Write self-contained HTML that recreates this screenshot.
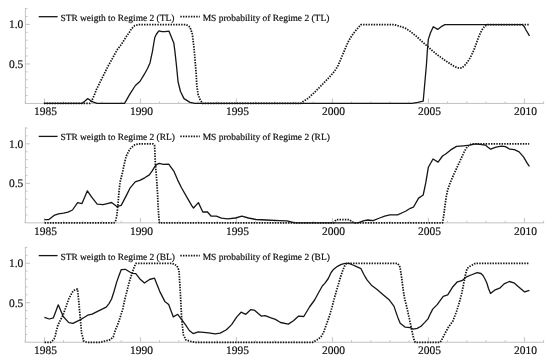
<!DOCTYPE html><html><head><meta charset="utf-8"><style>html,body{margin:0;padding:0;background:#fff;}svg{display:block;will-change:transform;filter:blur(0.25px);}text{font-family:"Liberation Serif",serif;stroke:#111;stroke-width:0.2px;text-rendering:geometricPrecision;}</style></head><body>
<svg width="550" height="361" viewBox="0 0 550 361">
<rect width="550" height="361" fill="#fff"/>
<path d="M25.4,8.00V103.45" stroke="#c2c2c2" stroke-width="1" fill="none"/>
<path d="M25.10,103.45H544.10" stroke="#c2c2c2" stroke-width="1" fill="none"/>
<path d="M25.4,95.56h2.0" stroke="#c2c2c2" stroke-width="1"/>
<path d="M25.4,87.65h2.0" stroke="#c2c2c2" stroke-width="1"/>
<path d="M25.4,79.75h2.0" stroke="#c2c2c2" stroke-width="1"/>
<path d="M25.4,71.84h2.0" stroke="#c2c2c2" stroke-width="1"/>
<path d="M25.4,63.94h4.5" stroke="#c2c2c2" stroke-width="1"/>
<path d="M25.4,56.04h2.0" stroke="#c2c2c2" stroke-width="1"/>
<path d="M25.4,48.13h2.0" stroke="#c2c2c2" stroke-width="1"/>
<path d="M25.4,40.23h2.0" stroke="#c2c2c2" stroke-width="1"/>
<path d="M25.4,32.32h2.0" stroke="#c2c2c2" stroke-width="1"/>
<path d="M25.4,24.42h4.5" stroke="#c2c2c2" stroke-width="1"/>
<path d="M25.4,16.52h2.0" stroke="#c2c2c2" stroke-width="1"/>
<path d="M25.4,8.61h2.0" stroke="#c2c2c2" stroke-width="1"/>
<path d="M25.20,103.45v-2" stroke="#c2c2c2" stroke-width="1"/>
<path d="M44.40,103.45v-5" stroke="#c2c2c2" stroke-width="1"/>
<path d="M63.60,103.45v-2" stroke="#c2c2c2" stroke-width="1"/>
<path d="M82.80,103.45v-2" stroke="#c2c2c2" stroke-width="1"/>
<path d="M102.00,103.45v-2" stroke="#c2c2c2" stroke-width="1"/>
<path d="M121.20,103.45v-2" stroke="#c2c2c2" stroke-width="1"/>
<path d="M140.40,103.45v-5" stroke="#c2c2c2" stroke-width="1"/>
<path d="M159.60,103.45v-2" stroke="#c2c2c2" stroke-width="1"/>
<path d="M178.80,103.45v-2" stroke="#c2c2c2" stroke-width="1"/>
<path d="M198.00,103.45v-2" stroke="#c2c2c2" stroke-width="1"/>
<path d="M217.20,103.45v-2" stroke="#c2c2c2" stroke-width="1"/>
<path d="M236.40,103.45v-5" stroke="#c2c2c2" stroke-width="1"/>
<path d="M255.60,103.45v-2" stroke="#c2c2c2" stroke-width="1"/>
<path d="M274.80,103.45v-2" stroke="#c2c2c2" stroke-width="1"/>
<path d="M294.00,103.45v-2" stroke="#c2c2c2" stroke-width="1"/>
<path d="M313.20,103.45v-2" stroke="#c2c2c2" stroke-width="1"/>
<path d="M332.40,103.45v-5" stroke="#c2c2c2" stroke-width="1"/>
<path d="M351.60,103.45v-2" stroke="#c2c2c2" stroke-width="1"/>
<path d="M370.80,103.45v-2" stroke="#c2c2c2" stroke-width="1"/>
<path d="M390.00,103.45v-2" stroke="#c2c2c2" stroke-width="1"/>
<path d="M409.20,103.45v-2" stroke="#c2c2c2" stroke-width="1"/>
<path d="M428.40,103.45v-5" stroke="#c2c2c2" stroke-width="1"/>
<path d="M447.60,103.45v-2" stroke="#c2c2c2" stroke-width="1"/>
<path d="M466.80,103.45v-2" stroke="#c2c2c2" stroke-width="1"/>
<path d="M486.00,103.45v-2" stroke="#c2c2c2" stroke-width="1"/>
<path d="M505.20,103.45v-2" stroke="#c2c2c2" stroke-width="1"/>
<path d="M524.40,103.45v-5" stroke="#c2c2c2" stroke-width="1"/>
<path d="M543.60,103.45v-2" stroke="#c2c2c2" stroke-width="1"/>
<text x="23.3" y="28.22" font-size="11.5" text-anchor="end" fill="#111">1.0</text>
<text x="23.3" y="67.74" font-size="11.5" text-anchor="end" fill="#111">0.5</text>
<text x="45.40" y="115.10" font-size="11.5" text-anchor="middle" fill="#111">1985</text>
<text x="141.40" y="115.10" font-size="11.5" text-anchor="middle" fill="#111">1990</text>
<text x="237.40" y="115.10" font-size="11.5" text-anchor="middle" fill="#111">1995</text>
<text x="333.40" y="115.10" font-size="11.5" text-anchor="middle" fill="#111">2000</text>
<text x="429.40" y="115.10" font-size="11.5" text-anchor="middle" fill="#111">2005</text>
<text x="525.40" y="115.10" font-size="11.5" text-anchor="middle" fill="#111">2010</text>
<path d="M38.7,16.70H57.6" stroke="#161616" stroke-width="1.3"/>
<text x="60.4" y="20.60" font-size="9.45" fill="#111">STR weigth to Regime 2 (TL)</text>
<path d="M180.3,16.70H199.8" stroke="#161616" stroke-width="1.75" stroke-dasharray="1.45 1.2"/>
<text x="202.7" y="20.60" font-size="9.45" fill="#111">MS probability of Regime 2 (TL)</text>
<polyline points="43.9,103.45 88.0,103.45 90.0,103.45 91.5,101.20 93.2,97.70 95.2,93.00 96.3,89.80 100.9,80.50 105.6,71.10 108.0,66.30 111.9,59.40 114.4,54.70 117.5,49.40 120.5,45.50 123.3,41.40 126.3,36.60 129.4,32.20 131.3,29.00 134.7,25.60 138.8,24.65 186.4,24.65 190.0,27.10 192.4,34.30 194.3,51.00 196.1,72.80 196.8,85.50 198.1,94.40 200.0,99.50 202.5,103.45 205.7,103.45 299.0,103.45 300.7,103.45 303.2,101.50 305.5,100.00 307.7,98.50 309.7,96.90 311.7,95.00 313.7,93.20 317.2,89.60 321.1,85.70 324.9,81.80 328.8,77.70 332.7,73.50 336.0,69.10 338.2,65.20 340.5,59.80 343.3,53.20 346.1,46.60 348.8,40.50 351.6,36.10 354.4,32.20 357.7,28.30 361.0,24.65 364.3,24.65 372.9,24.65 388.8,24.65 394.4,24.65 399.9,26.30 405.6,28.30 410.5,31.60 416.1,36.10 421.6,41.10 427.2,46.10 432.7,51.00 438.2,55.50 440.5,57.10 444.4,59.90 448.7,62.80 452.6,65.40 456.5,67.40 459.4,68.30 461.8,67.90 464.7,65.40 467.6,61.80 470.1,57.90 472.5,53.10 474.4,48.70 476.4,43.30 479.2,35.50 481.9,30.00 484.7,26.10 487.5,24.65 490.8,24.65 529.2,24.65" fill="none" stroke="#161616" stroke-width="1.75" stroke-dasharray="1.45 1.2" stroke-linejoin="round"/>
<polyline points="43.9,103.45 82.0,103.45 85.0,101.00 87.5,98.70 89.5,99.70 91.2,101.20 93.5,102.20 97.0,103.45 100.0,103.45 122.5,103.45 124.5,103.45 126.0,100.90 130.0,93.90 135.4,85.50 139.9,81.50 144.4,74.20 147.5,68.50 150.0,62.90 152.4,51.70 154.0,42.00 154.9,37.20 156.5,34.00 158.9,30.80 162.1,31.60 165.0,31.60 169.0,31.20 173.8,42.90 175.0,52.20 176.2,63.00 178.1,82.00 180.5,91.50 184.0,98.60 190.0,102.40 195.0,103.45 412.0,103.45 417.8,102.40 423.2,101.20 426.5,64.00 427.2,52.70 428.3,39.40 430.5,32.80 433.3,26.70 437.7,29.40 442.1,26.10 445.0,24.65 522.4,24.65 524.5,27.00 526.0,30.00 529.5,35.80" fill="none" stroke="#161616" stroke-width="1.3" stroke-linejoin="round"/>
<path d="M25.4,127.40V222.85" stroke="#c2c2c2" stroke-width="1" fill="none"/>
<path d="M25.10,222.85H544.10" stroke="#c2c2c2" stroke-width="1" fill="none"/>
<path d="M25.4,214.96h2.0" stroke="#c2c2c2" stroke-width="1"/>
<path d="M25.4,207.05h2.0" stroke="#c2c2c2" stroke-width="1"/>
<path d="M25.4,199.15h2.0" stroke="#c2c2c2" stroke-width="1"/>
<path d="M25.4,191.24h2.0" stroke="#c2c2c2" stroke-width="1"/>
<path d="M25.4,183.34h4.5" stroke="#c2c2c2" stroke-width="1"/>
<path d="M25.4,175.44h2.0" stroke="#c2c2c2" stroke-width="1"/>
<path d="M25.4,167.53h2.0" stroke="#c2c2c2" stroke-width="1"/>
<path d="M25.4,159.63h2.0" stroke="#c2c2c2" stroke-width="1"/>
<path d="M25.4,151.72h2.0" stroke="#c2c2c2" stroke-width="1"/>
<path d="M25.4,143.82h4.5" stroke="#c2c2c2" stroke-width="1"/>
<path d="M25.4,135.92h2.0" stroke="#c2c2c2" stroke-width="1"/>
<path d="M25.4,128.01h2.0" stroke="#c2c2c2" stroke-width="1"/>
<path d="M25.20,222.85v-2" stroke="#c2c2c2" stroke-width="1"/>
<path d="M44.40,222.85v-5" stroke="#c2c2c2" stroke-width="1"/>
<path d="M63.60,222.85v-2" stroke="#c2c2c2" stroke-width="1"/>
<path d="M82.80,222.85v-2" stroke="#c2c2c2" stroke-width="1"/>
<path d="M102.00,222.85v-2" stroke="#c2c2c2" stroke-width="1"/>
<path d="M121.20,222.85v-2" stroke="#c2c2c2" stroke-width="1"/>
<path d="M140.40,222.85v-5" stroke="#c2c2c2" stroke-width="1"/>
<path d="M159.60,222.85v-2" stroke="#c2c2c2" stroke-width="1"/>
<path d="M178.80,222.85v-2" stroke="#c2c2c2" stroke-width="1"/>
<path d="M198.00,222.85v-2" stroke="#c2c2c2" stroke-width="1"/>
<path d="M217.20,222.85v-2" stroke="#c2c2c2" stroke-width="1"/>
<path d="M236.40,222.85v-5" stroke="#c2c2c2" stroke-width="1"/>
<path d="M255.60,222.85v-2" stroke="#c2c2c2" stroke-width="1"/>
<path d="M274.80,222.85v-2" stroke="#c2c2c2" stroke-width="1"/>
<path d="M294.00,222.85v-2" stroke="#c2c2c2" stroke-width="1"/>
<path d="M313.20,222.85v-2" stroke="#c2c2c2" stroke-width="1"/>
<path d="M332.40,222.85v-5" stroke="#c2c2c2" stroke-width="1"/>
<path d="M351.60,222.85v-2" stroke="#c2c2c2" stroke-width="1"/>
<path d="M370.80,222.85v-2" stroke="#c2c2c2" stroke-width="1"/>
<path d="M390.00,222.85v-2" stroke="#c2c2c2" stroke-width="1"/>
<path d="M409.20,222.85v-2" stroke="#c2c2c2" stroke-width="1"/>
<path d="M428.40,222.85v-5" stroke="#c2c2c2" stroke-width="1"/>
<path d="M447.60,222.85v-2" stroke="#c2c2c2" stroke-width="1"/>
<path d="M466.80,222.85v-2" stroke="#c2c2c2" stroke-width="1"/>
<path d="M486.00,222.85v-2" stroke="#c2c2c2" stroke-width="1"/>
<path d="M505.20,222.85v-2" stroke="#c2c2c2" stroke-width="1"/>
<path d="M524.40,222.85v-5" stroke="#c2c2c2" stroke-width="1"/>
<path d="M543.60,222.85v-2" stroke="#c2c2c2" stroke-width="1"/>
<text x="23.3" y="147.62" font-size="11.5" text-anchor="end" fill="#111">1.0</text>
<text x="23.3" y="187.14" font-size="11.5" text-anchor="end" fill="#111">0.5</text>
<text x="45.40" y="234.50" font-size="11.5" text-anchor="middle" fill="#111">1985</text>
<text x="141.40" y="234.50" font-size="11.5" text-anchor="middle" fill="#111">1990</text>
<text x="237.40" y="234.50" font-size="11.5" text-anchor="middle" fill="#111">1995</text>
<text x="333.40" y="234.50" font-size="11.5" text-anchor="middle" fill="#111">2000</text>
<text x="429.40" y="234.50" font-size="11.5" text-anchor="middle" fill="#111">2005</text>
<text x="525.40" y="234.50" font-size="11.5" text-anchor="middle" fill="#111">2010</text>
<path d="M38.7,136.40H57.6" stroke="#161616" stroke-width="1.3"/>
<text x="60.4" y="140.30" font-size="9.45" fill="#111">STR weigth to Regime 2 (RL)</text>
<path d="M180.3,136.40H199.8" stroke="#161616" stroke-width="1.75" stroke-dasharray="1.45 1.2"/>
<text x="202.7" y="140.30" font-size="9.45" fill="#111">MS probability of Regime 2 (RL)</text>
<polyline points="44.6,222.85 112.4,222.85 114.0,222.85 115.6,220.80 116.8,215.70 117.5,209.30 118.1,202.90 118.7,195.30 119.4,187.60 120.4,180.50 121.3,177.30 122.6,172.10 123.7,166.70 124.8,161.50 126.2,156.30 127.3,154.00 128.5,151.50 130.0,149.20 131.2,147.60 134.7,144.90 138.7,143.80 142.0,143.80 150.6,143.80 152.8,143.80 154.5,145.20 154.9,151.60 155.3,163.30 156.3,174.90 156.8,181.90 157.5,192.70 158.1,205.50 158.7,215.70 159.4,222.85 333.5,222.85 335.0,221.00 336.4,219.50 349.0,219.50 352.3,221.80 355.0,222.85 441.0,222.85 442.5,222.85 443.7,215.70 445.0,205.50 446.3,196.60 447.6,190.20 449.5,184.50 451.4,180.00 454.1,173.70 457.6,166.20 461.1,158.60 464.6,151.00 467.5,146.40 469.3,145.20 472.0,143.80 474.8,143.80 480.0,143.80 529.2,143.80" fill="none" stroke="#161616" stroke-width="1.75" stroke-dasharray="1.45 1.2" stroke-linejoin="round"/>
<polyline points="44.5,219.70 48.9,219.50 54.0,215.40 58.5,213.80 63.6,213.10 68.0,212.10 72.5,210.00 77.6,202.70 82.0,203.60 87.4,190.80 91.5,196.90 97.2,204.10 103.1,204.60 108.3,203.30 111.6,202.50 116.8,206.60 121.2,205.40 126.3,195.60 130.2,187.80 135.2,181.90 140.3,180.10 144.7,177.80 149.3,174.90 152.2,170.80 155.1,166.20 157.0,164.30 159.2,163.30 163.3,164.40 168.7,164.10 173.8,171.10 177.7,180.10 181.5,187.80 186.7,196.90 191.9,205.90 193.5,208.00 198.4,202.60 202.8,212.00 207.3,211.80 211.2,216.20 216.3,216.20 221.5,218.20 227.7,218.80 235.5,218.00 241.9,216.20 248.4,218.00 256.1,219.50 266.4,220.00 279.3,220.60 287.0,220.80 294.7,222.85 348.7,222.85 358.0,222.85 364.1,220.60 368.0,220.00 373.1,220.60 379.6,218.00 384.7,216.20 389.9,214.90 397.6,214.90 402.8,212.50 406.0,211.00 410.3,208.30 413.4,207.20 418.6,198.10 423.2,195.00 425.8,182.70 428.4,167.20 433.0,159.00 438.1,162.10 442.5,156.00 446.0,153.70 450.7,149.90 456.5,146.40 463.4,145.80 469.3,145.20 476.0,143.80 485.4,145.10 488.0,147.20 490.7,149.20 496.0,147.20 501.5,146.10 505.4,146.60 509.8,149.20 514.4,149.70 519.1,151.80 523.5,156.90 527.3,163.40 529.4,166.40" fill="none" stroke="#161616" stroke-width="1.3" stroke-linejoin="round"/>
<path d="M25.4,246.80V342.25" stroke="#c2c2c2" stroke-width="1" fill="none"/>
<path d="M25.10,342.25H544.10" stroke="#c2c2c2" stroke-width="1" fill="none"/>
<path d="M25.4,334.36h2.0" stroke="#c2c2c2" stroke-width="1"/>
<path d="M25.4,326.45h2.0" stroke="#c2c2c2" stroke-width="1"/>
<path d="M25.4,318.55h2.0" stroke="#c2c2c2" stroke-width="1"/>
<path d="M25.4,310.64h2.0" stroke="#c2c2c2" stroke-width="1"/>
<path d="M25.4,302.74h4.5" stroke="#c2c2c2" stroke-width="1"/>
<path d="M25.4,294.84h2.0" stroke="#c2c2c2" stroke-width="1"/>
<path d="M25.4,286.93h2.0" stroke="#c2c2c2" stroke-width="1"/>
<path d="M25.4,279.03h2.0" stroke="#c2c2c2" stroke-width="1"/>
<path d="M25.4,271.12h2.0" stroke="#c2c2c2" stroke-width="1"/>
<path d="M25.4,263.22h4.5" stroke="#c2c2c2" stroke-width="1"/>
<path d="M25.4,255.32h2.0" stroke="#c2c2c2" stroke-width="1"/>
<path d="M25.4,247.41h2.0" stroke="#c2c2c2" stroke-width="1"/>
<path d="M25.20,342.25v-2" stroke="#c2c2c2" stroke-width="1"/>
<path d="M44.40,342.25v-5" stroke="#c2c2c2" stroke-width="1"/>
<path d="M63.60,342.25v-2" stroke="#c2c2c2" stroke-width="1"/>
<path d="M82.80,342.25v-2" stroke="#c2c2c2" stroke-width="1"/>
<path d="M102.00,342.25v-2" stroke="#c2c2c2" stroke-width="1"/>
<path d="M121.20,342.25v-2" stroke="#c2c2c2" stroke-width="1"/>
<path d="M140.40,342.25v-5" stroke="#c2c2c2" stroke-width="1"/>
<path d="M159.60,342.25v-2" stroke="#c2c2c2" stroke-width="1"/>
<path d="M178.80,342.25v-2" stroke="#c2c2c2" stroke-width="1"/>
<path d="M198.00,342.25v-2" stroke="#c2c2c2" stroke-width="1"/>
<path d="M217.20,342.25v-2" stroke="#c2c2c2" stroke-width="1"/>
<path d="M236.40,342.25v-5" stroke="#c2c2c2" stroke-width="1"/>
<path d="M255.60,342.25v-2" stroke="#c2c2c2" stroke-width="1"/>
<path d="M274.80,342.25v-2" stroke="#c2c2c2" stroke-width="1"/>
<path d="M294.00,342.25v-2" stroke="#c2c2c2" stroke-width="1"/>
<path d="M313.20,342.25v-2" stroke="#c2c2c2" stroke-width="1"/>
<path d="M332.40,342.25v-5" stroke="#c2c2c2" stroke-width="1"/>
<path d="M351.60,342.25v-2" stroke="#c2c2c2" stroke-width="1"/>
<path d="M370.80,342.25v-2" stroke="#c2c2c2" stroke-width="1"/>
<path d="M390.00,342.25v-2" stroke="#c2c2c2" stroke-width="1"/>
<path d="M409.20,342.25v-2" stroke="#c2c2c2" stroke-width="1"/>
<path d="M428.40,342.25v-5" stroke="#c2c2c2" stroke-width="1"/>
<path d="M447.60,342.25v-2" stroke="#c2c2c2" stroke-width="1"/>
<path d="M466.80,342.25v-2" stroke="#c2c2c2" stroke-width="1"/>
<path d="M486.00,342.25v-2" stroke="#c2c2c2" stroke-width="1"/>
<path d="M505.20,342.25v-2" stroke="#c2c2c2" stroke-width="1"/>
<path d="M524.40,342.25v-5" stroke="#c2c2c2" stroke-width="1"/>
<path d="M543.60,342.25v-2" stroke="#c2c2c2" stroke-width="1"/>
<text x="23.3" y="267.02" font-size="11.5" text-anchor="end" fill="#111">1.0</text>
<text x="23.3" y="306.54" font-size="11.5" text-anchor="end" fill="#111">0.5</text>
<text x="45.40" y="353.90" font-size="11.5" text-anchor="middle" fill="#111">1985</text>
<text x="141.40" y="353.90" font-size="11.5" text-anchor="middle" fill="#111">1990</text>
<text x="237.40" y="353.90" font-size="11.5" text-anchor="middle" fill="#111">1995</text>
<text x="333.40" y="353.90" font-size="11.5" text-anchor="middle" fill="#111">2000</text>
<text x="429.40" y="353.90" font-size="11.5" text-anchor="middle" fill="#111">2005</text>
<text x="525.40" y="353.90" font-size="11.5" text-anchor="middle" fill="#111">2010</text>
<path d="M38.7,255.60H57.6" stroke="#161616" stroke-width="1.3"/>
<text x="60.4" y="259.50" font-size="9.45" fill="#111">STR weigth to Regime 2 (BL)</text>
<path d="M180.3,255.60H199.8" stroke="#161616" stroke-width="1.75" stroke-dasharray="1.45 1.2"/>
<text x="202.7" y="259.50" font-size="9.45" fill="#111">MS probability of Regime 2 (BL)</text>
<polyline points="44.6,342.35 50.5,342.35 52.6,340.80 54.1,339.00 55.3,335.50 56.6,329.90 58.0,325.00 59.9,321.20 63.2,314.60 65.9,307.00 68.6,299.40 70.8,295.00 73.0,291.20 75.2,289.50 77.5,289.10 78.8,301.90 80.1,316.60 81.6,333.00 83.8,341.20 87.0,342.35 100.5,342.35 105.5,341.00 110.4,339.60 113.2,336.90 115.2,330.60 118.0,323.70 120.8,315.40 122.9,308.50 124.8,299.30 127.1,290.60 129.4,281.30 131.7,274.30 134.1,267.30 135.8,263.40 138.7,263.40 145.5,263.40 172.5,263.40 177.0,265.80 179.0,270.50 180.4,293.70 181.7,319.40 183.4,334.90 186.0,340.00 190.6,341.30 195.0,342.35 305.0,342.35 312.6,342.35 317.1,339.80 320.9,337.00 323.5,332.60 326.0,325.50 328.6,318.50 331.2,310.20 333.0,303.30 334.9,296.30 336.9,289.30 338.8,282.90 340.7,276.50 342.6,270.80 344.5,266.30 346.4,263.40 349.6,263.40 396.3,263.40 397.5,263.40 399.6,265.90 400.5,270.20 401.8,278.70 403.0,288.50 404.2,296.50 405.0,300.00 406.9,307.70 408.9,316.60 410.8,325.50 412.7,334.50 414.0,339.60 415.2,342.35 417.2,342.35 440.0,342.35 441.2,340.90 444.9,333.60 448.5,327.00 452.9,321.10 456.6,311.30 459.6,301.60 461.9,292.70 464.1,281.50 465.6,274.00 467.1,268.50 470.0,266.30 472.4,265.00 475.3,263.40 478.3,263.40 529.2,263.40" fill="none" stroke="#161616" stroke-width="1.75" stroke-dasharray="1.45 1.2" stroke-linejoin="round"/>
<polyline points="44.4,317.30 49.3,319.00 53.4,317.80 58.3,304.80 63.2,316.50 68.8,322.60 72.9,323.40 80.1,319.90 84.0,317.50 87.7,315.20 92.1,314.10 98.6,310.80 106.2,307.10 109.0,303.60 111.6,299.00 114.0,291.50 116.6,282.40 119.0,275.50 121.3,269.60 125.3,269.30 130.6,272.50 132.9,273.30 135.8,273.70 139.9,278.90 144.5,283.00 149.5,279.50 154.5,278.20 159.6,291.10 164.8,301.40 168.7,304.50 173.3,316.90 177.7,314.30 181.5,319.40 185.4,324.60 189.3,330.50 193.1,333.60 198.3,331.80 203.5,332.30 208.6,332.80 215.1,333.90 220.2,333.10 226.4,329.70 231.6,324.60 236.8,316.90 241.1,312.20 245.8,314.30 250.9,309.60 254.8,310.40 261.2,316.10 265.1,315.60 270.3,317.60 275.4,319.40 280.6,322.50 288.3,324.10 293.5,320.70 298.6,316.10 303.8,316.50 309.5,307.00 314.6,300.00 318.4,293.00 322.3,286.00 324.8,283.40 328.3,278.50 331.1,272.50 333.7,269.20 337.5,266.30 341.3,264.40 345.2,263.40 349.0,263.40 352.8,265.00 356.0,266.30 361.0,268.70 364.0,274.70 367.0,279.90 371.4,285.20 377.4,289.70 383.4,294.90 389.4,300.10 393.9,306.10 397.0,315.10 398.0,317.90 400.2,323.30 405.2,327.20 410.3,327.70 413.3,329.10 417.2,328.40 421.0,326.20 424.8,322.40 428.0,318.90 429.5,315.50 432.7,309.10 437.2,304.60 443.2,296.40 447.7,294.90 452.9,286.70 457.4,281.80 461.9,280.70 466.0,277.20 471.0,275.00 477.2,272.70 481.0,273.50 483.0,275.50 485.0,279.00 487.0,283.50 488.5,288.50 490.5,293.50 495.2,289.80 500.2,287.80 504.1,283.90 509.3,281.50 513.9,282.80 519.6,287.70 524.7,291.90 529.4,290.30" fill="none" stroke="#161616" stroke-width="1.3" stroke-linejoin="round"/>
</svg></body></html>
